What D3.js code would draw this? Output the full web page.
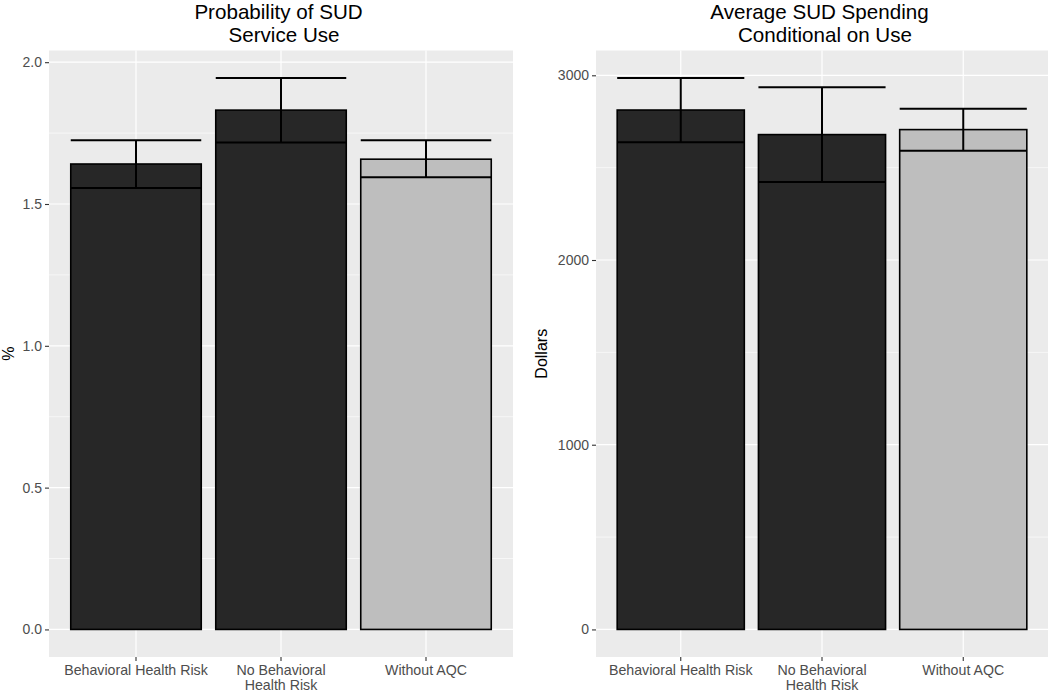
<!DOCTYPE html>
<html>
<head>
<meta charset="utf-8">
<script src="https://cdn.jsdelivr.net/npm/d3@7"></script>
<style>
  html, body { margin: 0; padding: 0; background: #ffffff; }
  svg { display: block; font-family: "Liberation Sans", Arial, Helvetica, sans-serif; }
</style>
</head>
<body>
<svg id="chart" width="1050" height="694"></svg>
<script>
// ---------- data ----------
const categories = ["Behavioral Health Risk", "No Behavioral\nHealth Risk", "Without AQC"];
const groupType = ["with", "with", "without"];

const probValues = [1.641, 1.831, 1.658];
const probLower  = [1.556, 1.717, 1.594];
const probUpper  = [1.725, 1.944, 1.725];
const probTicks  = [0.0, 0.5, 1.0, 1.5, 2.0];
const probMinor  = [0.25, 0.75, 1.25, 1.75];

const spendValues = [2812, 2679, 2706];
const spendLower  = [2637, 2423, 2591];
const spendUpper  = [2985, 2935, 2819];
const spendTicks  = [0, 1000, 2000, 3000];
const spendMinor  = [500, 1500, 2500];

const titleProb  = ["Probability of SUD", "Service Use"];
const titleSpend = ["Average SUD Spending", "Conditional on Use"];

// ---------- styling ----------
const fillScale = d3.scaleOrdinal().domain(["with", "without"]).range(["#272727", "#bebebe"]);
const svg = d3.select("#chart");

function panel(opts) {
  const { x0, x1, y0, y1, values, lower, upper, ticks, minor, fmt, title, ytitle, ytitleX } = opts;
  const rows = categories.map((c, i) => ({ c, v: values[i], lo: lower[i], hi: upper[i], g: groupType[i] }));
  const maxV = d3.max(upper);
  const ex = maxV * 0.05;
  const y = d3.scaleLinear().domain([-ex, maxV + ex]).range([y1, y0]);
  const x = d3.scaleBand().domain(categories).range([x0, x1]).paddingInner(0.1).paddingOuter(0.15);

  const g = svg.append("g");
  g.append("rect").attr("x", x0).attr("y", y0).attr("width", x1 - x0).attr("height", y1 - y0).attr("fill", "#ebebeb");
  g.selectAll(".minor").data(minor).enter().append("line")
    .attr("x1", x0).attr("x2", x1).attr("y1", d => y(d)).attr("y2", d => y(d))
    .attr("stroke", "#ffffff").attr("stroke-width", 0.6);
  g.selectAll(".majorY").data(ticks).enter().append("line")
    .attr("x1", x0).attr("x2", x1).attr("y1", d => y(d)).attr("y2", d => y(d))
    .attr("stroke", "#ffffff").attr("stroke-width", 1.2);
  g.selectAll(".majorX").data(categories).enter().append("line")
    .attr("x1", d => x(d) + x.bandwidth() / 2).attr("x2", d => x(d) + x.bandwidth() / 2)
    .attr("y1", y0).attr("y2", y1)
    .attr("stroke", "#ffffff").attr("stroke-width", 1.2);

  // bars
  g.selectAll(".bar").data(rows).enter().append("rect")
    .attr("x", d => x(d.c)).attr("width", x.bandwidth())
    .attr("y", d => y(d.v)).attr("height", d => y(0) - y(d.v))
    .attr("fill", d => fillScale(d.g)).attr("stroke", "#000000").attr("stroke-width", 1.6);

  // error bars
  const eb = g.selectAll(".eb").data(rows).enter().append("g");
  eb.append("line")
    .attr("x1", d => x(d.c) + x.bandwidth() / 2).attr("x2", d => x(d.c) + x.bandwidth() / 2)
    .attr("y1", d => y(d.lo)).attr("y2", d => y(d.hi))
    .attr("stroke", "#000").attr("stroke-width", 2);
  eb.append("line")
    .attr("x1", d => x(d.c)).attr("x2", d => x(d.c) + x.bandwidth())
    .attr("y1", d => y(d.lo)).attr("y2", d => y(d.lo))
    .attr("stroke", "#000").attr("stroke-width", 2);
  eb.append("line")
    .attr("x1", d => x(d.c)).attr("x2", d => x(d.c) + x.bandwidth())
    .attr("y1", d => y(d.hi)).attr("y2", d => y(d.hi))
    .attr("stroke", "#000").attr("stroke-width", 2);

  // y axis
  const ya = g.append("g").attr("transform", `translate(${x0},0)`)
    .call(d3.axisLeft(y).tickValues(ticks).tickFormat(fmt).tickSize(4).tickPadding(3));
  ya.select(".domain").remove();
  ya.selectAll(".tick line").attr("stroke", "#333333").attr("stroke-width", 1.1);
  ya.selectAll(".tick text").attr("fill", "#4d4d4d").style("font-size", "14px")
    .style("font-family", "Liberation Sans, Arial, sans-serif");

  // x axis
  const xa = g.append("g").attr("transform", `translate(0,${y1})`)
    .call(d3.axisBottom(x).tickSize(4).tickPadding(3).tickFormat(""));
  xa.select(".domain").remove();
  xa.selectAll(".tick line").attr("stroke", "#333333").attr("stroke-width", 1.1);
  categories.forEach(c => {
    const lines = c.split("\n");
    const t = g.append("text").attr("text-anchor", "middle")
      .attr("fill", "#4d4d4d").style("font-size", "14.2px");
    lines.forEach((ln, i) => {
      t.append("tspan").attr("x", x(c) + x.bandwidth() / 2).attr("y", y1 + 18 + i * 15).text(ln);
    });
  });

  // title
  const cx = (x0 + x1) / 2;
  title.forEach((ln, i) => {
    g.append("text").attr("text-anchor", "middle")
      .attr("x", cx + (i === 0 ? -2.5 : 3)).attr("y", 19 + i * 22.5)
      .attr("fill", "#000").style("font-size", "20.6px").text(ln);
  });

  // y title
  g.append("text").attr("text-anchor", "middle")
    .attr("transform", `translate(${ytitleX},${(y0 + y1) / 2}) rotate(-90)`)
    .attr("fill", "#000").style("font-size", "16px").text(ytitle);
}

panel({ x0: 49, x1: 513, y0: 50.5, y1: 657, values: probValues, lower: probLower, upper: probUpper,
        ticks: probTicks, minor: probMinor, fmt: d3.format(".1f"), title: titleProb, ytitle: "%", ytitleX: 14 });
panel({ x0: 596, x1: 1048, y0: 50.5, y1: 657, values: spendValues, lower: spendLower, upper: spendUpper,
        ticks: spendTicks, minor: spendMinor, fmt: d3.format("d"), title: titleSpend, ytitle: "Dollars", ytitleX: 547 });
</script>
</body>
</html>
